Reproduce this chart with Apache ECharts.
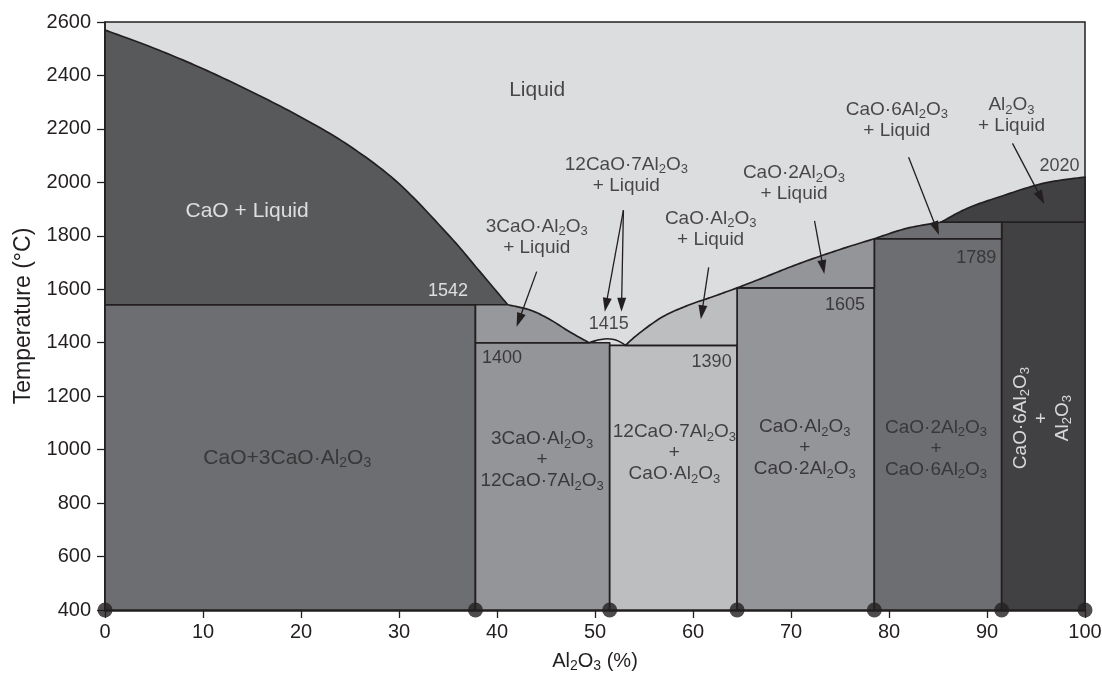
<!DOCTYPE html>
<html><head><meta charset="utf-8">
<script src="https://cdn.jsdelivr.net/npm/echarts@6/dist/echarts.min.js"></script>
<style>html,body{margin:0;padding:0;background:#fff}#c{width:1102px;height:675px}</style>
</head><body><div id="c"></div>
<script>
// ---- data ----
const compounds = ['CaO', '3CaO·Al2O3', '12CaO·7Al2O3', 'CaO·Al2O3', 'CaO·2Al2O3', 'CaO·6Al2O3', 'Al2O3'];
const compoundX = [0, 37.8, 51.5, 64.5, 78.5, 91.5, 100];          // wt% Al2O3
const invariantT = [1542, 1400, 1390, 1605, 1789, 1851];           // °C, top of each two-solid field
const xTicks = [0, 10, 20, 30, 40, 50, 60, 70, 80, 90, 100];
const yTicks = [400, 600, 800, 1000, 1200, 1400, 1600, 1800, 2000, 2200, 2400, 2600];
// liquidus curves [Al2O3 %, T °C]
const liqCaO = [[0, 2570], [5, 2502], [10, 2425], [15, 2338], [20, 2244], [25, 2135], [30, 1995], [35.2, 1797], [38, 1677], [41.1, 1542]];
const liqC3A = [[41.1, 1542], [43.4, 1522], [45.4, 1487], [47.4, 1441], [49.4, 1400]];
const domeC12A7 = [[49.4, 1400], [50.0, 1407], [50.6, 1412], [51.2, 1415], [51.8, 1413], [52.4, 1406], [53.1, 1390]];
const liqCA = [[53.1, 1390], [54.5, 1435], [56.9, 1497], [59.5, 1540], [62, 1572], [64.5, 1605]];
const liqCA2 = [[64.5, 1605], [67.5, 1648], [70.9, 1697], [75, 1749], [78.5, 1789]];
const liqCA6 = [[78.5, 1789], [81.8, 1828], [85.3, 1851]];
const liqAl2O3 = [[85.3, 1851], [88, 1903], [91.3, 1946], [95.7, 1996], [100, 2020]];
// annotation arrows [tail, head]
const arrows = [
  [[44.05, 1666], [42.0, 1460]],
  [[52.9, 1896], [51.0, 1516]],
  [[52.9, 1896], [52.7, 1516]],
  [[61.6, 1682], [60.8, 1488]],
  [[72.4, 1856], [73.4, 1657]],
  [[82.0, 2094], [85.1, 1803]],
  [[92.6, 2146], [95.85, 1919]]
];
// text annotations
const labelText = ['Liquid', 'CaO + Liquid', '1542', '3CaO·Al_2O_3\n+ Liquid', '12CaO·7Al_2O_3\n+ Liquid', '1415', '1400', '1390',
  'CaO·Al_2O_3\n+ Liquid', 'CaO·2Al_2O_3\n+ Liquid', '1605', 'CaO·6Al_2O_3\n+ Liquid', 'Al_2O_3\n+ Liquid', '2020', '1789',
  'CaO+3CaO·Al_2O_3', '3CaO·Al_2O_3\n+\n12CaO·7Al_2O_3', '12CaO·7Al_2O_3\n+\nCaO·Al_2O_3', 'CaO·Al_2O_3\n+\nCaO·2Al_2O_3',
  'CaO·2Al_2O_3\n+\nCaO·6Al_2O_3', 'CaO·6Al_2O_3\n+\nAl_2O_3'];
const labelX = [44.1, 14.5, 35.0, 44.05, 53.2, 51.4, 40.5, 61.9, 61.8, 70.3, 75.5, 80.8, 92.5, 97.4, 88.9, 18.6, 44.6, 58.1, 71.4, 84.8, 95.6];
const labelT = [2345, 1893, 1595, 1794, 2027, 1470, 1342, 1329, 1826, 1996, 1541, 2233, 2250, 2061, 1716, 969, 961, 987, 1006, 1005, 1118];

// ---- styles ----
const FONT = '"Liberation Sans", Arial, Helvetica, sans-serif';
const INK = '#231f20';
const solidColors = ['#6d6e71', '#939598', '#bcbec0', '#939598', '#6d6e71', '#414042'];
const liquidColors = ['#58595b', '#97989b', '#bcbec0', '#939598', '#6d6e71', '#414042'];
const labelKind = ['b', 'b', 'm', 'c', 'c', 'm', 'm', 'm', 'c', 'c', 'm', 'c', 'c', 'm', 'm', 'b', 'c', 'c', 'c', 'c', 'c'];
const labelWhite = [0, 1, 1, 0, 0, 0, 0, 0, 0, 0, 0, 0, 0, 0, 0, 0, 0, 0, 0, 0, 1];
const labelRot = [0, 0, 0, 0, 0, 0, 0, 0, 0, 0, 0, 0, 0, 0, 0, 0, 0, 0, 0, 0, 90];

// ---- build geometry from data ----
const curves = [liqCaO, liqC3A, liqCA, liqCA2, liqCA6, liqAl2O3];
const solidFields = compoundX.slice(0, -1).map((x0, i) => [[[x0, 400], [compoundX[i + 1], 400], [compoundX[i + 1], invariantT[i]], [x0, invariantT[i]]]]);
const liquidFields = [
  [[[compoundX[0], invariantT[0]]], liqCaO],
  [[[compoundX[1], invariantT[1]], [compoundX[1], invariantT[0]]], liqC3A],
  [liqCA, [[compoundX[3], invariantT[2]]]],
  [liqCA2, [[compoundX[4], invariantT[3]]]],
  [liqCA6, [[compoundX[5], invariantT[5]], [compoundX[5], invariantT[4]]]],
  [liqAl2O3, [[compoundX[6], invariantT[5]]]]
];
const fields = solidFields.concat(liquidFields);
const fieldColors = solidColors.concat(liquidColors);

// Catmull-Rom smoothing in pixel space (rendering only)
function smoothPx(px) {
  const out = [];
  const n = px.length;
  for (let i = 0; i < n - 1; i++) {
    const p0 = px[Math.max(0, i - 1)], p1 = px[i], p2 = px[i + 1], p3 = px[Math.min(n - 1, i + 2)];
    const steps = 12;
    for (let s = 0; s < steps; s++) {
      const t = s / steps, t2 = t * t, t3 = t2 * t;
      out.push([0, 1].map(k => 0.5 * ((2 * p1[k]) + (-p0[k] + p2[k]) * t + (2 * p0[k] - 5 * p1[k] + 4 * p2[k] - p3[k]) * t2 + (-p0[k] + 3 * p1[k] - 3 * p2[k] + p3[k]) * t3)));
    }
  }
  out.push(px[n - 1]);
  return out;
}

function chem(s, n, sb) {
  return s.split('\n').map(line => line.split(/_(\d)/).map((seg, i) => seg === '' ? '' : (i % 2 ? `{${sb}|${seg}}` : `{${n}|${seg}}`)).join('')).join('\n');
}
function richFor(color) {
  return {
    b: { fontFamily: FONT, fontSize: 21, lineHeight: 23, color, verticalAlign: 'middle' },
    bs: { fontFamily: FONT, fontSize: 14, lineHeight: 14, padding: [11, 0, 0, 0], color, verticalAlign: 'middle' },
    c: { fontFamily: FONT, fontSize: 19, lineHeight: 21, color, verticalAlign: 'middle' },
    cs: { fontFamily: FONT, fontSize: 13, lineHeight: 13, padding: [10, 0, 0, 0], color, verticalAlign: 'middle' },
    m: { fontFamily: FONT, fontSize: 18, lineHeight: 20, color, verticalAlign: 'middle' },
    ms: { fontFamily: FONT, fontSize: 12, lineHeight: 12, padding: [10, 0, 0, 0], color, verticalAlign: 'middle' }
  };
}
const labelData = labelText.map((t, i) => {
  const color = labelWhite[i] ? '#ffffff' : ((i === 15 || i === 19 || i === 14) ? '#2a2a2c' : INK);
  return {
    value: [labelX[i], labelT[i]],
    label: {
      show: true, position: 'inside', align: 'center', verticalAlign: 'middle', rotate: labelRot[i],
      formatter: chem(t, labelKind[i], labelKind[i] + 's'),
      rich: richFor(color)
    }
  };
});

const chart = echarts.init(document.getElementById('c'), null, { renderer: 'canvas' });
chart.setOption({
  animation: false,
  backgroundColor: '#ffffff',
  grid: { left: 105, right: 17, top: 22, bottom: 65, show: true, backgroundColor: '#dcdddf', borderColor: INK, borderWidth: 1.5, outerBoundsMode: 'none' },
  xAxis: {
    type: 'value', min: xTicks[0], max: xTicks[xTicks.length - 1], interval: xTicks[1] - xTicks[0],
    axisLine: { show: true, onZero: false, lineStyle: { color: INK, width: 2.5 } },
    axisTick: { show: true, inside: false, length: 8, lineStyle: { color: INK, width: 1.3 } },
    splitLine: { show: false },
    axisLabel: { color: INK, fontSize: 20, fontFamily: FONT, margin: 12, formatter: v => String(v) },
    name: chem('Al_2O_3 (%)', 'n', 's'), nameLocation: 'middle', nameGap: 40,
    nameTextStyle: {
      rich: {
        n: { fontFamily: FONT, fontSize: 20, lineHeight: 22, color: INK, verticalAlign: 'middle' },
        s: { fontFamily: FONT, fontSize: 14, lineHeight: 14, padding: [11, 0, 0, 0], color: INK, verticalAlign: 'middle' }
      }
    }
  },
  yAxis: {
    type: 'value', min: yTicks[0], max: yTicks[yTicks.length - 1], interval: yTicks[1] - yTicks[0],
    axisLine: { show: true, lineStyle: { color: INK, width: 1.5 } },
    axisTick: { show: true, inside: false, length: 8, lineStyle: { color: INK, width: 1.3 } },
    splitLine: { show: false },
    axisLabel: { color: INK, fontSize: 20, fontFamily: FONT, margin: 14, formatter: v => String(v) },
    name: 'Temperature (°C)', nameLocation: 'middle', nameGap: 64, nameRotate: 90,
    nameTextStyle: { color: INK, fontSize: 23, fontFamily: FONT }
  },
  series: [
    {
      type: 'custom', coordinateSystem: 'cartesian2d', silent: true, z: 2,
      data: fields.map((f, i) => [f[0][0][0], f[0][0][1], i]),
      encode: { x: 0, y: 1 },
      renderItem: (params, api) => {
        const f = fields[params.dataIndex];
        let pts = [];
        f.forEach(piece => {
          const px = piece.map(p => api.coord(p));
          pts = pts.concat(curves.indexOf(piece) >= 0 ? smoothPx(px) : px);
        });
        return {
          type: 'polygon',
          shape: { points: pts },
          style: { fill: fieldColors[params.dataIndex], stroke: INK, lineWidth: 1.7, lineJoin: 'round' }
        };
      }
    },
    {
      type: 'line', data: domeC12A7, smooth: 0.4, showSymbol: false, silent: true, z: 3,
      lineStyle: { color: INK, width: 1.6 }
    },
    {
      type: 'custom', coordinateSystem: 'cartesian2d', silent: true, z: 4,
      data: arrows.map(a => [a[0][0], a[0][1], a[1][0], a[1][1]]),
      encode: { x: [0, 2], y: [1, 3] },
      renderItem: (params, api) => {
        const a = arrows[params.dataIndex];
        const p1 = api.coord(a[0]), p2 = api.coord(a[1]);
        const dx = p2[0] - p1[0], dy = p2[1] - p1[1];
        const len = Math.sqrt(dx * dx + dy * dy);
        const ux = dx / len, uy = dy / len;
        const hl = 14, hw = 4.5;
        const bx = p2[0] - ux * hl, by = p2[1] - uy * hl;
        return {
          type: 'group',
          children: [
            { type: 'line', shape: { x1: p1[0], y1: p1[1], x2: bx + ux * 2, y2: by + uy * 2 }, style: { stroke: INK, lineWidth: 1.3 } },
            { type: 'polygon', shape: { points: [[p2[0], p2[1]], [bx - uy * hw, by + ux * hw], [bx + uy * hw, by - ux * hw]] }, style: { fill: INK } }
          ]
        };
      }
    },
    {
      type: 'scatter', data: labelData, symbolSize: 1, silent: true, z: 5,
      itemStyle: { color: 'rgba(0,0,0,0)' }
    },
    {
      type: 'scatter', data: compoundX.map(x => [x, yTicks[0]]), symbolSize: 15, clip: false, silent: true, z: 10,
      itemStyle: { color: INK }
    }
  ]
});
</script>
</body></html>
